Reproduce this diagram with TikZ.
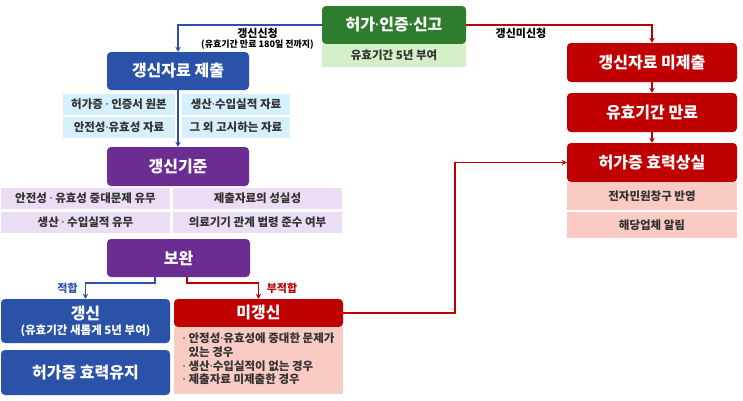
\documentclass[tikz,border=0pt]{standalone}
\usepackage{fontspec}
\setmainfont{Noto Sans CJK KR}
\newfontfamily\dotfont{Noto Sans}
\newcommand{\middot}{{\dotfont\bfseries ·}}
\usetikzlibrary{arrows.meta}

\definecolor{gogreen}{HTML}{2E7D2E}
\definecolor{golight}{HTML}{D5EFC8}
\definecolor{rnblue}{HTML}{2A52A8}
\definecolor{rnlight}{HTML}{D6EFFC}
\definecolor{crpurple}{HTML}{6B2D91}
\definecolor{crlight}{HTML}{EBDDF3}
\definecolor{nored}{HTML}{C00000}
\definecolor{nolight}{HTML}{FACBC3}

\tikzset{
  mainbox/.style={rounded corners=4pt, minimum height=38pt, inner sep=0pt,
    text=white, font=\bfseries\fontsize{16}{18}\selectfont},
  subbox/.style={minimum height=21pt, inner sep=0pt,
    text=black!80, font=\bfseries\fontsize{11.5}{13}\selectfont},
  link/.style={line width=1.6pt, -{Stealth[length=5pt,width=5.5pt]}},
  lab/.style={inner sep=0pt, font=\bfseries\fontsize{11}{13}\selectfont},
}

\begin{document}
\begin{tikzpicture}[x=1pt, y=-1pt]
    \useasboundingbox[fill=white] (0,0) rectangle (743,400);

    % 허가·인증·신고
    \node[mainbox, fill=gogreen, minimum width=144pt] (go) at (394,25) {허가\middot 인증\middot 신고};
    \node[subbox, fill=golight, minimum width=144pt, minimum height=23pt] (goterm) at (394,55.5) {유효기간 5년 부여};

    % 갱신자료 제출 및 제출자료
    \node[mainbox, fill=rnblue, minimum width=142pt] (submit) at (178,71) {갱신자료 제출};
    \node[subbox, fill=rnlight, minimum width=112pt] (doc1) at (119,104.5) {허가증 \middot\ 인증서 원본};
    \node[subbox, fill=rnlight, minimum width=108pt] (doc2) at (236,104.5) {생산\middot 수입실적 자료};
    \node[subbox, fill=rnlight, minimum width=112pt] (doc3) at (119,127.5) {안전성\middot 유효성 자료};
    \node[subbox, fill=rnlight, minimum width=108pt] (doc4) at (236,127.5) {그 외 고시하는 자료};

    % 갱신기준
    \node[mainbox, fill=crpurple, minimum width=142pt, minimum height=39pt] (crit) at (178,166.5) {갱신기준};
    \node[subbox, fill=crlight, minimum width=169pt] (crit1) at (85.5,198.5) {안전성 \middot\ 유효성 중대문제 유무};
    \node[subbox, fill=crlight, minimum width=169pt] (crit2) at (257.5,198.5) {제출자료의 성실성};
    \node[subbox, fill=crlight, minimum width=169pt] (crit3) at (85.5,222.5) {생산 \middot\ 수입실적 유무};
    \node[subbox, fill=crlight, minimum width=169pt] (crit4) at (257.5,222.5) {의료기기 관계 법령 준수 여부};

    % 보완
    \node[mainbox, fill=crpurple, minimum width=143pt] (supp) at (178.5,258) {보완};

    % 적합: 갱신
    \node[mainbox, fill=rnblue, minimum width=169pt, minimum height=44pt, align=center] (renew) at (85.5,321)
        {갱신\\[-3pt]{\fontsize{11.5}{13}\selectfont (유효기간 새롭게 5년 부여)}};
    \node[mainbox, fill=rnblue, minimum width=169pt, minimum height=45pt] (keep) at (85.5,372.5) {허가증 효력유지};

    % 부적합: 미갱신
    \node[mainbox, fill=nored, minimum width=169pt, minimum height=28pt] (norenew) at (258.5,313) {미갱신};
    \node[subbox, fill=nolight, minimum width=169pt, minimum height=67pt, align=left,
        font=\bfseries\fontsize{11.5}{13.2}\selectfont] (reason) at (258.5,360.5)
        {\begin{tabular}{@{}l@{\hspace{3pt}}l@{}}
         \middot & 안정성\middot 유효성에 중대한 문제가\\
                 & 있는 경우\\
         \middot & 생산\middot 수입실적이 없는 경우\\
         \middot & 제출자료 미제출한 경우
         \end{tabular}};

    % 갱신미신청 흐름
    \node[mainbox, fill=nored, minimum width=170pt, minimum height=39pt] (miss) at (652,62.5) {갱신자료 미제출};
    \node[mainbox, fill=nored, minimum width=170pt, minimum height=39pt] (expire) at (652,112.5) {유효기간 만료};
    \node[mainbox, fill=nored, minimum width=170pt, minimum height=39pt] (lost) at (652,162.5) {허가증 효력상실};
    \node[subbox, fill=nolight, minimum width=170pt, minimum height=28pt] (lost1) at (652,196) {전자민원창구 반영};
    \node[subbox, fill=nolight, minimum width=170pt, minimum height=26pt] (lost2) at (652,225) {해당업체 알림};

    % 연결선
    \draw[link, rnblue] (go.west) -| (submit.north);
    \draw[link, rnblue] (submit.south) -- (crit.north);
    \draw[link, nored] (go.east) -| (miss.north);
    \draw[link, nored] (miss.south) -- (expire.north);
    \draw[link, nored] (expire.south) -- (lost.north);
    \draw[link, rnblue] ([xshift=-23.5pt]supp.south) -- ++(0,6) -| (renew.north);
    \draw[link, nored] ([xshift=8.5pt]supp.south) -- ++(0,6) -| (norenew.north);
    \draw[link, nored] (norenew.east) -- ++(112,0) |- (lost.west);

    % 연결선 설명
    \node[lab] (applylab) at (257.5,33) {갱신신청};
    \node[lab, font=\bfseries\fontsize{9}{11}\selectfont] (applynote) at (257.5,44.5) {(유효기간 만료 180일 전까지)};
    \node[lab] (noapplylab) at (521,33) {갱신미신청};
    \node[lab, text=rnblue] (fitlab) at (67.5,288) {적합};
    \node[lab, text=nored] (unfitlab) at (282,288) {부적합};
\end{tikzpicture}
\end{document}
